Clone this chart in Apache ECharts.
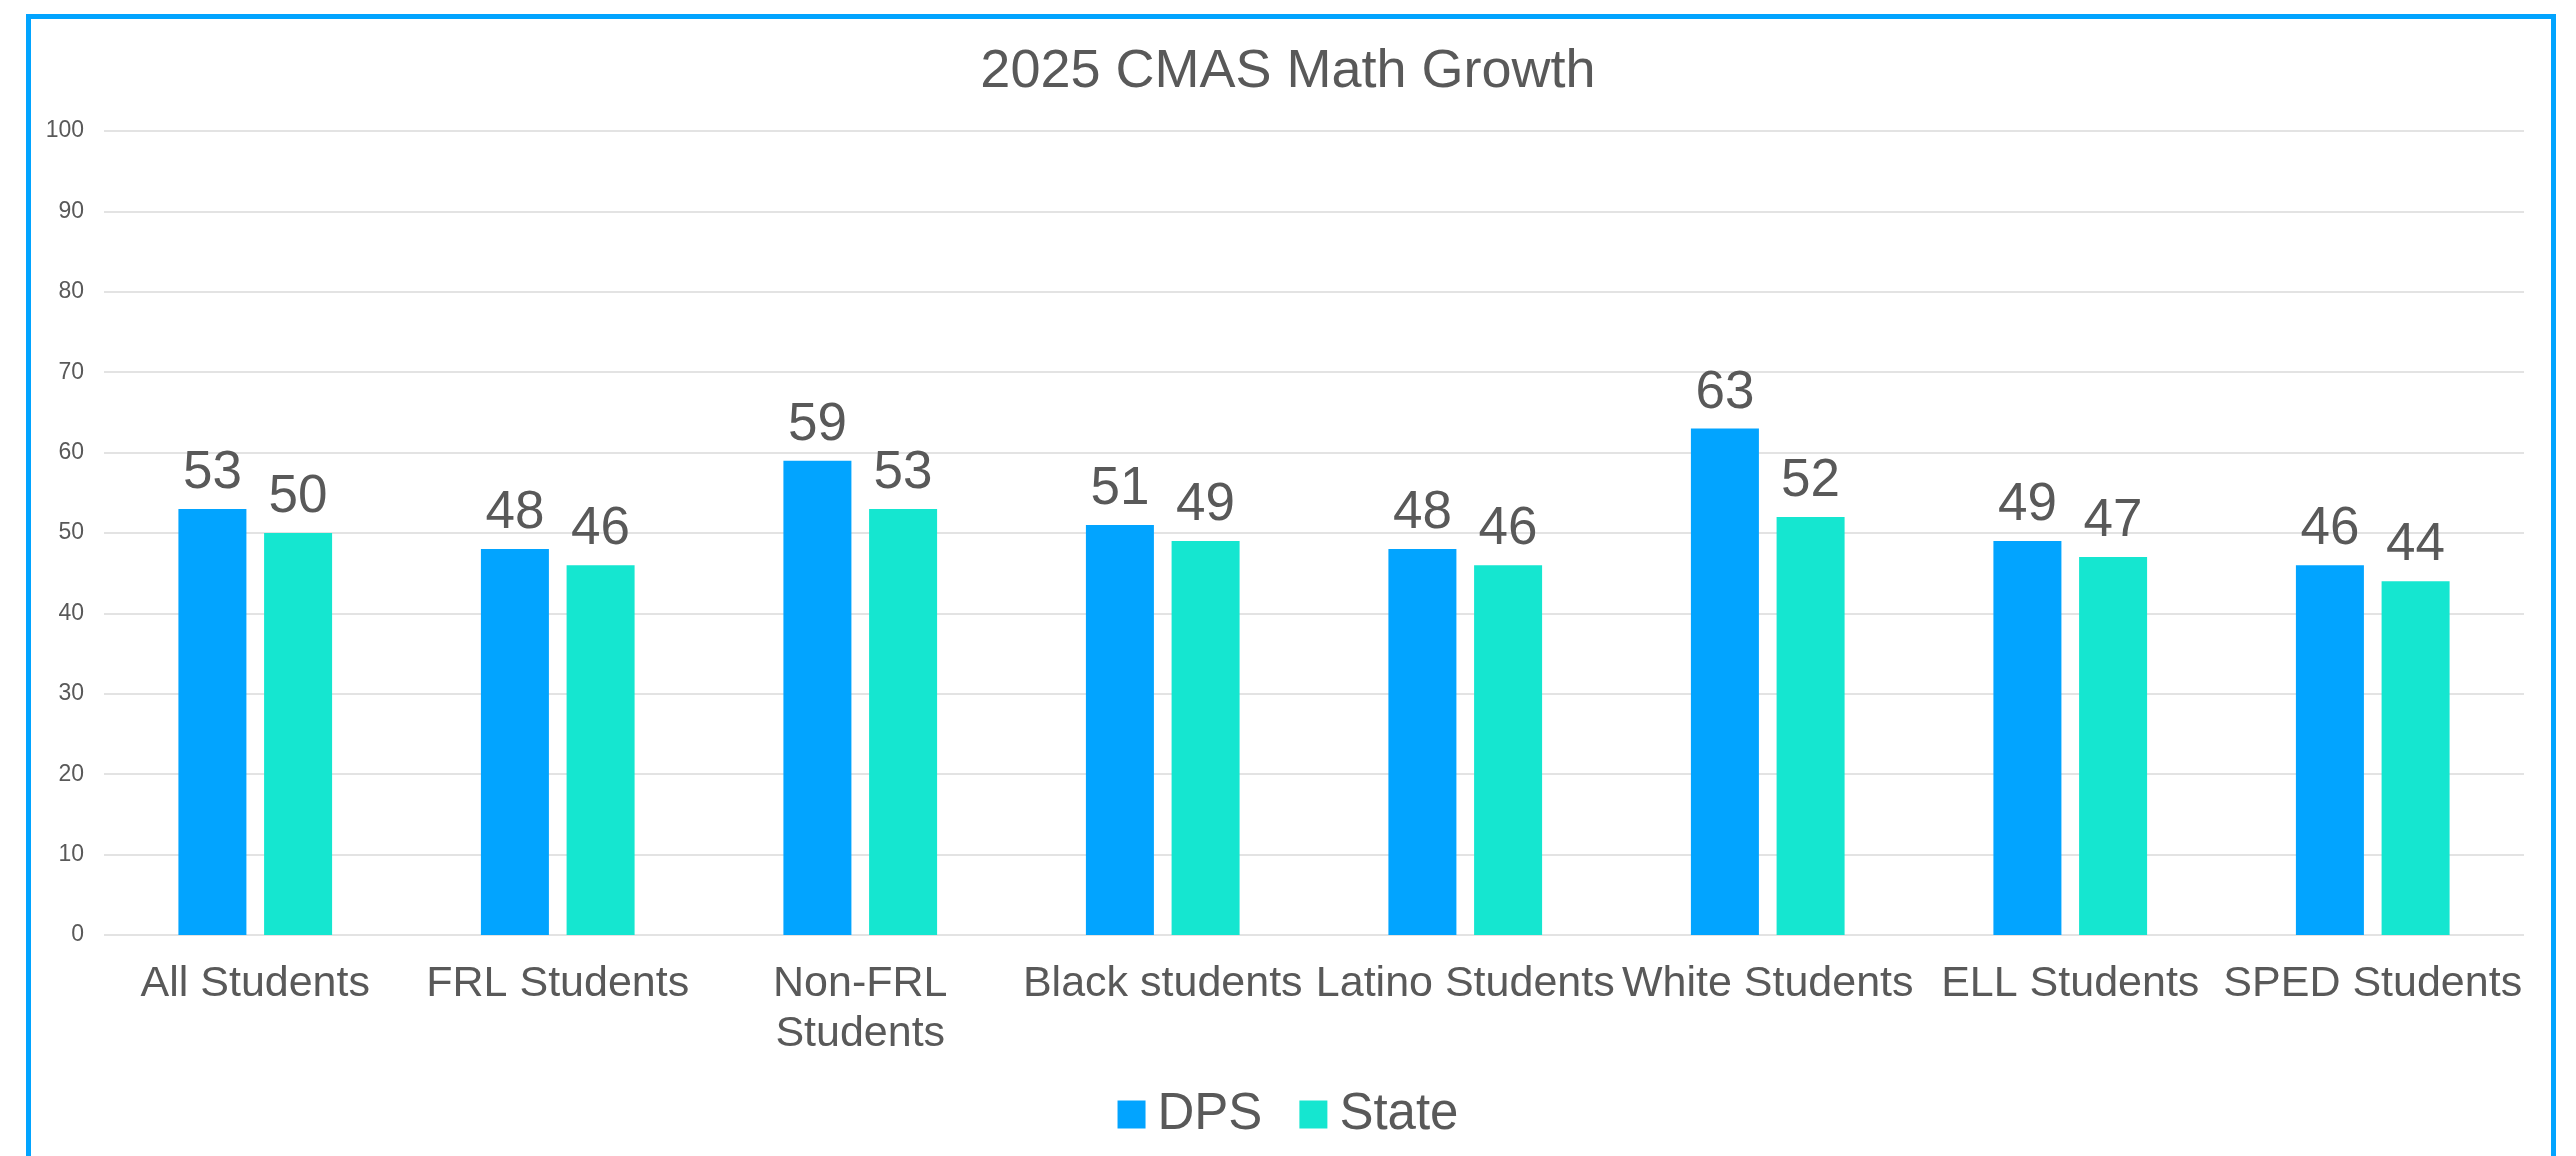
<!DOCTYPE html>
<html>
<head>
<meta charset="utf-8">
<title>2025 CMAS Math Growth</title>
<script src="https://cdn.jsdelivr.net/npm/echarts@6/dist/echarts.min.js"></script>
<style>
  html, body { margin: 0; padding: 0; background: #fff; }
  #chart { width: 2576px; height: 1156px; }
</style>
</head>
<body>
<div id="chart"></div>
<script>
// chart data
const groups = ['All Students', 'FRL Students', 'Non-FRL\nStudents', 'Black students',
  'Latino Students', 'White Students', 'ELL Students', 'SPED Students'];
const dpsValues = [53, 48, 59, 51, 48, 63, 49, 46];
const stateValues = [50, 46, 53, 49, 46, 52, 47, 44];
const seriesNames = ['DPS', 'State'];

const textGray = '#595959';
const fontFam = '"Liberation Sans", Arial, sans-serif';

const myChart = echarts.init(document.getElementById('chart'));

const barLabel = {
  show: true,
  position: 'top',
  distance: 9,
  color: textGray,
  fontFamily: fontFam,
  fontSize: 53
};

const option = {
  backgroundColor: '#fff',
  animation: false,
  title: {
    text: '2025 CMAS Math Growth',
    left: 'center',
    top: 40,
    textStyle: { color: textGray, fontFamily: fontFam, fontSize: 54, fontWeight: 'normal' }
  },
  // outer blue frame (runs off the bottom like the original)
  graphic: [{
    type: 'rect',
    shape: { x: 28.5, y: 16.5, width: 2525, height: 1200 },
    style: { fill: 'none', stroke: '#02A4FF', lineWidth: 5 },
    silent: true
  }],
  legend: {
    data: seriesNames,
    left: 'center',
    top: 1084,
    icon: 'rect',
    itemWidth: 28,
    itemHeight: 28,
    itemGap: 37,
    textStyle: { color: textGray, fontFamily: fontFam, fontSize: 51, padding: [0, 0, 0, 7] }
  },
  grid: { left: 104, right: 52, top: 131, bottom: 221, containLabel: false },
  xAxis: {
    type: 'category',
    data: groups,
    axisLine: { show: false },
    axisTick: { show: false },
    axisLabel: {
      interval: 0,
      margin: 24,
      color: textGray,
      fontFamily: fontFam,
      fontSize: 43,
      lineHeight: 50
    }
  },
  yAxis: {
    type: 'value',
    min: 0,
    max: 100,
    interval: 10,
    axisLine: { show: false },
    axisTick: { show: false },
    axisLabel: { color: textGray, fontFamily: fontFam, fontSize: 23, margin: 20 },
    splitLine: { lineStyle: { color: '#E3E3E3', width: 2 } }
  },
  series: [
    {
      name: seriesNames[0],
      type: 'bar',
      data: dpsValues,
      barWidth: 68,
      barGap: '26%',
      itemStyle: { color: '#02A4FF' },
      label: barLabel
    },
    {
      name: seriesNames[1],
      type: 'bar',
      data: stateValues,
      barWidth: 68,
      itemStyle: { color: '#15E6D0' },
      label: barLabel
    }
  ]
};

myChart.setOption(option);
</script>
</body>
</html>
